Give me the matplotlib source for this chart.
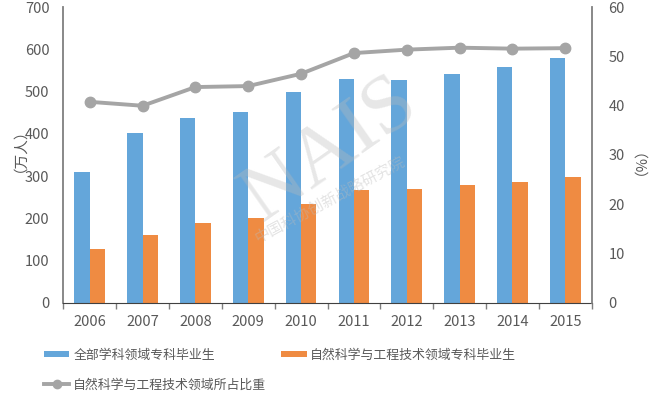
import matplotlib
matplotlib.use("Agg")
import matplotlib.pyplot as plt
import numpy as np
from matplotlib.lines import Line2D
from matplotlib.patches import Patch

plt.rcParams['font.family'] = ['Noto Sans CJK SC', 'DejaVu Sans']

years = ['2006', '2007', '2008', '2009', '2010', '2011', '2012', '2013', '2014', '2015']
all_grads = [310, 403, 438, 453, 499, 529, 527, 542, 559, 579]
sci_grads = [127, 161, 190, 200, 233, 267, 269, 279, 287, 298]
share = [40.8, 40.0, 43.8, 44.0, 46.5, 50.7, 51.4, 51.8, 51.6, 51.7]

label_all = '全部学科领域专科毕业生'
label_sci = '自然科学与工程技术领域专科毕业生'
label_share = '自然科学与工程技术领域所占比重'

blue = '#64A6DA'
orange = '#EF8B42'
gray = '#A5A5A5'
txt = '#595959'
axc = '#7F7F7F'

fig = plt.figure(figsize=(6.5, 4.01), dpi=100)
ax = fig.add_axes([63.3/650, 1-302.7/401, (591.7-63.3)/650, (302.7-7.3)/401])
ax2 = ax.twinx()

x = np.arange(len(years))
w = 0.29
ax.bar(x - w/2, all_grads, w, color=blue, zorder=2)
ax.bar(x + w/2, sci_grads, w, color=orange, zorder=2)
ax2.plot(x, share, color=gray, lw=2.8, marker='o', ms=7.5, zorder=3)

ax.set_xlim(-0.5, len(years) - 0.5)
ax.set_ylim(0, 700)
ax2.set_ylim(0, 60)
ax.set_yticks(range(0, 701, 100))
ax2.set_yticks(range(0, 61, 10))

ax.set_xticks(x)
ax.set_xticklabels(years)
ax.set_xticks(np.arange(-0.5, len(years), 1), minor=True)
ax.tick_params(axis='x', which='major', length=0, pad=9, labelsize=10.5, labelcolor=txt)
ax.tick_params(axis='x', which='minor', length=4, width=1, color=axc, direction='out')
ax.tick_params(axis='y', length=0, pad=10, labelsize=10.5, labelcolor=txt)
ax2.tick_params(axis='y', length=0, pad=12, labelsize=10.5, labelcolor=txt)

for a in (ax, ax2):
    a.spines['top'].set_visible(False)
    a.spines['left'].set_color(axc)
    a.spines['right'].set_color(axc)
    a.spines['bottom'].set_color('#404040')
    a.spines['left'].set_linewidth(1.3)
    a.spines['right'].set_linewidth(1.3)
ax.spines['right'].set_visible(False)
ax2.spines['left'].set_visible(False)
ax2.spines['bottom'].set_visible(False)

fig.text(12/650, 1-143/401, '（万人）', rotation=90, ha='center', va='center', fontsize=10.5, color=txt)
fig.text(633/650, 1-154/401, '（%）', rotation=90, ha='center', va='center', fontsize=10.5, color=txt)

# watermark
fig.text(330/650, 1-150/401, 'NAIS', rotation=35, ha='center', va='center', fontsize=60,
         color='#BBBBBB', alpha=0.35, family='Liberation Serif', zorder=10)
fig.text(330/650, 1-200/401, '中国科协创新战略研究院', rotation=28, ha='center', va='center',
         fontsize=11, color='#BBBBBB', alpha=0.4, zorder=10)

handles = [Patch(facecolor=blue), Line2D([0], [0], color=gray, lw=2.8, marker='o', ms=6),
           Patch(facecolor=orange)]
labels = [label_all, label_share, label_sci]
fig.legend(handles, labels, loc='center left', bbox_to_anchor=(32/650, 1-370/401), ncol=2,
           frameon=False, fontsize=9.3, labelcolor=txt, handlelength=2.0, handleheight=0.45,
           columnspacing=1.1, handletextpad=0.3, labelspacing=1.3)

fig.savefig('out.png', dpi=100)
